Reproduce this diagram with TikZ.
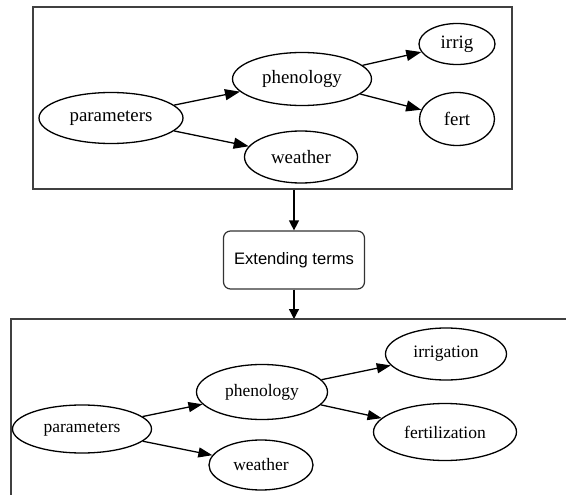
\documentclass[tikz,border=0pt]{standalone}
\usepackage{fontspec}
\setmainfont{Liberation Serif}
\newfontfamily\boxfont{Liberation Sans}
\usetikzlibrary{shapes.geometric,arrows.meta}
\tikzset{
  ell/.style={draw=black, ellipse, line width=1.3pt, inner sep=0pt},
  topfont/.style={font=\fontsize{18.9}{20}\selectfont},
  botfont/.style={font=\fontsize{17.5}{19}\selectfont},
  garr/.style={draw=black, line width=1.3pt, -{Triangle[length=15pt,width=11pt]}},
  barr/.style={draw=black, line width=1.3pt, -{Triangle[length=14pt,width=10pt]}},
  varr/.style={draw=black, line width=1.3pt, -{Triangle[length=10pt,width=10pt]}},
  frame/.style={draw=black!75, line width=1.6pt},
}
\begin{document}
\begin{tikzpicture}[x=1pt,y=-1pt]
\useasboundingbox (0,0) rectangle (566,495);
% top box
\node[frame, rectangle, minimum width=479pt, minimum height=182pt, inner sep=0pt] (topbox) at (272.5,98) {};
\node[ell, topfont, minimum width=144pt, minimum height=51pt] (tpar) at (111,118) {parameters};
\node[ell, topfont, minimum width=139pt, minimum height=53pt] (tphe) at (302,79) {phenology};
\node[ell, topfont, minimum width=113pt, minimum height=52pt] (twea) at (301,157) {weather};
\node[ell, topfont, minimum width=76pt, minimum height=41pt] (tirr) at (457,44) {irrig};
\node[ell, topfont, minimum width=75pt, minimum height=53pt] (tfer) at (457,119) {fert};
\draw[garr] (tpar) -- (tphe);
\draw[garr] (tpar) -- (twea);
\draw[garr] (tphe) -- (tirr);
\draw[garr] (tphe) -- (tfer);
% middle
\node[draw=black!80, line width=1.2pt, rounded corners=7pt, minimum width=141pt, minimum height=58pt, font=\boxfont\fontsize{16.6}{18}\selectfont] (ext) at (294,260) {Extending terms};
\draw[varr] (topbox.south -| ext.north) -- (ext.north);
\coordinate (bb) at (294,319);
\draw[varr] (ext.south) -- (bb);
% bottom box (cut off)
\draw[frame] (11,495) -- (11,319) -- (566,319);
\node[ell, botfont, minimum width=139pt, minimum height=48pt] (bpar) at (82,429) {parameters};
\node[ell, botfont, minimum width=131pt, minimum height=55pt] (bphe) at (262,392) {phenology};
\node[ell, botfont, minimum width=104pt, minimum height=50pt] (bwea) at (261,465) {weather};
\node[ell, botfont, minimum width=121pt, minimum height=52pt] (birr) at (446,354) {irrigation};
\node[ell, botfont, minimum width=143pt, minimum height=57pt] (bfer) at (445,432) {fertilization};
\draw[barr] (bpar) -- (bphe);
\draw[barr] (bpar) -- (bwea);
\draw[barr] (bphe) -- (birr);
\draw[barr] (bphe) -- (bfer);
\end{tikzpicture}
\end{document}
